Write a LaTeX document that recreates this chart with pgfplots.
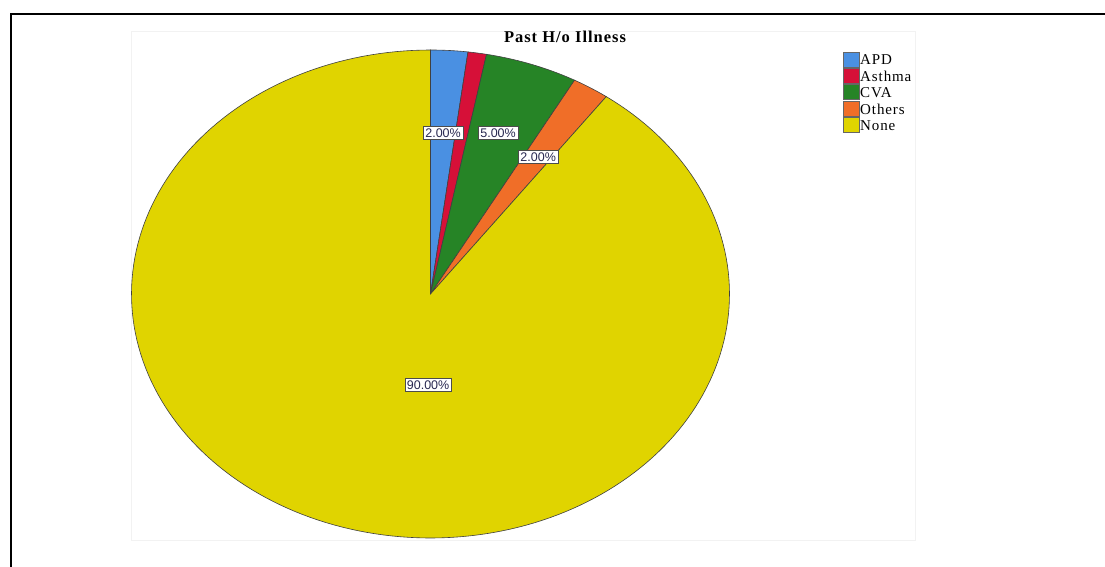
\documentclass[border=0pt]{standalone}
\usepackage{pgfplots}
\pgfplotsset{compat=1.18}
\usepackage{fontspec}
\setmainfont{Liberation Serif}
\newfontfamily\lsans{Liberation Sans}
\newfontfamily\wideserif[LetterSpace=6]{Liberation Serif}
\definecolor{cAPD}{RGB}{74,144,226}
\definecolor{cAst}{RGB}{214,16,56}
\definecolor{cCVA}{RGB}{38,132,38}
\definecolor{cOth}{RGB}{240,110,40}
\definecolor{cNone}{RGB}{224,212,0}
\definecolor{lbl}{RGB}{40,40,80}
% percentages
\def\pAPD{2}\def\pAst{1}\def\pCVA{5}\def\pOth{2}\def\pNone{90}
\begin{document}
\begin{tikzpicture}[x=1pt,y=1pt]
\useasboundingbox (0,0) rectangle (1105,567);
\fill[white] (0,0) rectangle (1105,567);
\draw[black!5] (131,27) rectangle (915,536);
\draw[line width=2.5pt] (11,0) -- (11,553) -- (1105,553);
\node[font=\wideserif\bfseries\fontsize{16.5}{18}\selectfont] at (565,530) {Past H/o Illness};
\begin{axis}[at={(430.5pt,273pt)}, anchor=center, scale only axis,
  width=598pt, height=488pt, xmin=-1, xmax=1, ymin=-1, ymax=1,
  hide axis, clip=false,
  legend cell align=left,
  legend style={draw=none, fill=none, at={(1.19,0.997)}, anchor=north west,
    font=\wideserif\fontsize{15}{16.3}\selectfont, row sep=0.8pt, inner sep=0pt,
    nodes={inner sep=0.3pt}},
  legend image code/.code={\draw[#1,draw=black!60] (0pt,-6.5pt) rectangle (16pt,8.5pt);}]
\addplot[fill=cAPD, draw=black!75, line width=0.6pt, domain={90-3.6*\pAPD}:{90}, samples=20, variable=\t]
  ({cos(t)},{sin(t)}) -- (axis cs:0,0) -- cycle;
\addlegendentry{APD}
\addplot[fill=cAst, draw=black!75, line width=0.6pt, domain={90-3.6*(\pAPD+\pAst)}:{90-3.6*\pAPD}, samples=10, variable=\t]
  ({cos(t)},{sin(t)}) -- (axis cs:0,0) -- cycle;
\addlegendentry{Asthma}
\addplot[fill=cCVA, draw=black!75, line width=0.6pt, domain={90-3.6*(\pAPD+\pAst+\pCVA)}:{90-3.6*(\pAPD+\pAst)}, samples=30, variable=\t]
  ({cos(t)},{sin(t)}) -- (axis cs:0,0) -- cycle;
\addlegendentry{CVA}
\addplot[fill=cOth, draw=black!75, line width=0.6pt, domain={90-3.6*(\pAPD+\pAst+\pCVA+\pOth)}:{90-3.6*(\pAPD+\pAst+\pCVA)}, samples=15, variable=\t]
  ({cos(t)},{sin(t)}) -- (axis cs:0,0) -- cycle;
\addlegendentry{Others}
\addplot[fill=cNone, draw=black!75, line width=0.6pt, domain={90-3.6*(\pAPD+\pAst+\pCVA+\pOth+\pNone)}:{90-3.6*(\pAPD+\pAst+\pCVA+\pOth)}, samples=200, variable=\t]
  ({cos(t)},{sin(t)}) -- (axis cs:0,0) -- cycle;
\addlegendentry{None}
\tikzset{lab/.style={draw=black!70, fill=white, inner sep=2pt, text=lbl, font=\lsans\fontsize{12.5}{14}\selectfont}}
\node[lab] at (axis cs:0.042,0.66) {2.00\%};
\node[lab] at (axis cs:0.226,0.66) {5.00\%};
\node[lab] at (axis cs:0.36,0.561) {2.00\%};
\node[lab] at (axis cs:-0.008,-0.373) {90.00\%};
\end{axis}
\end{tikzpicture}
\end{document}
